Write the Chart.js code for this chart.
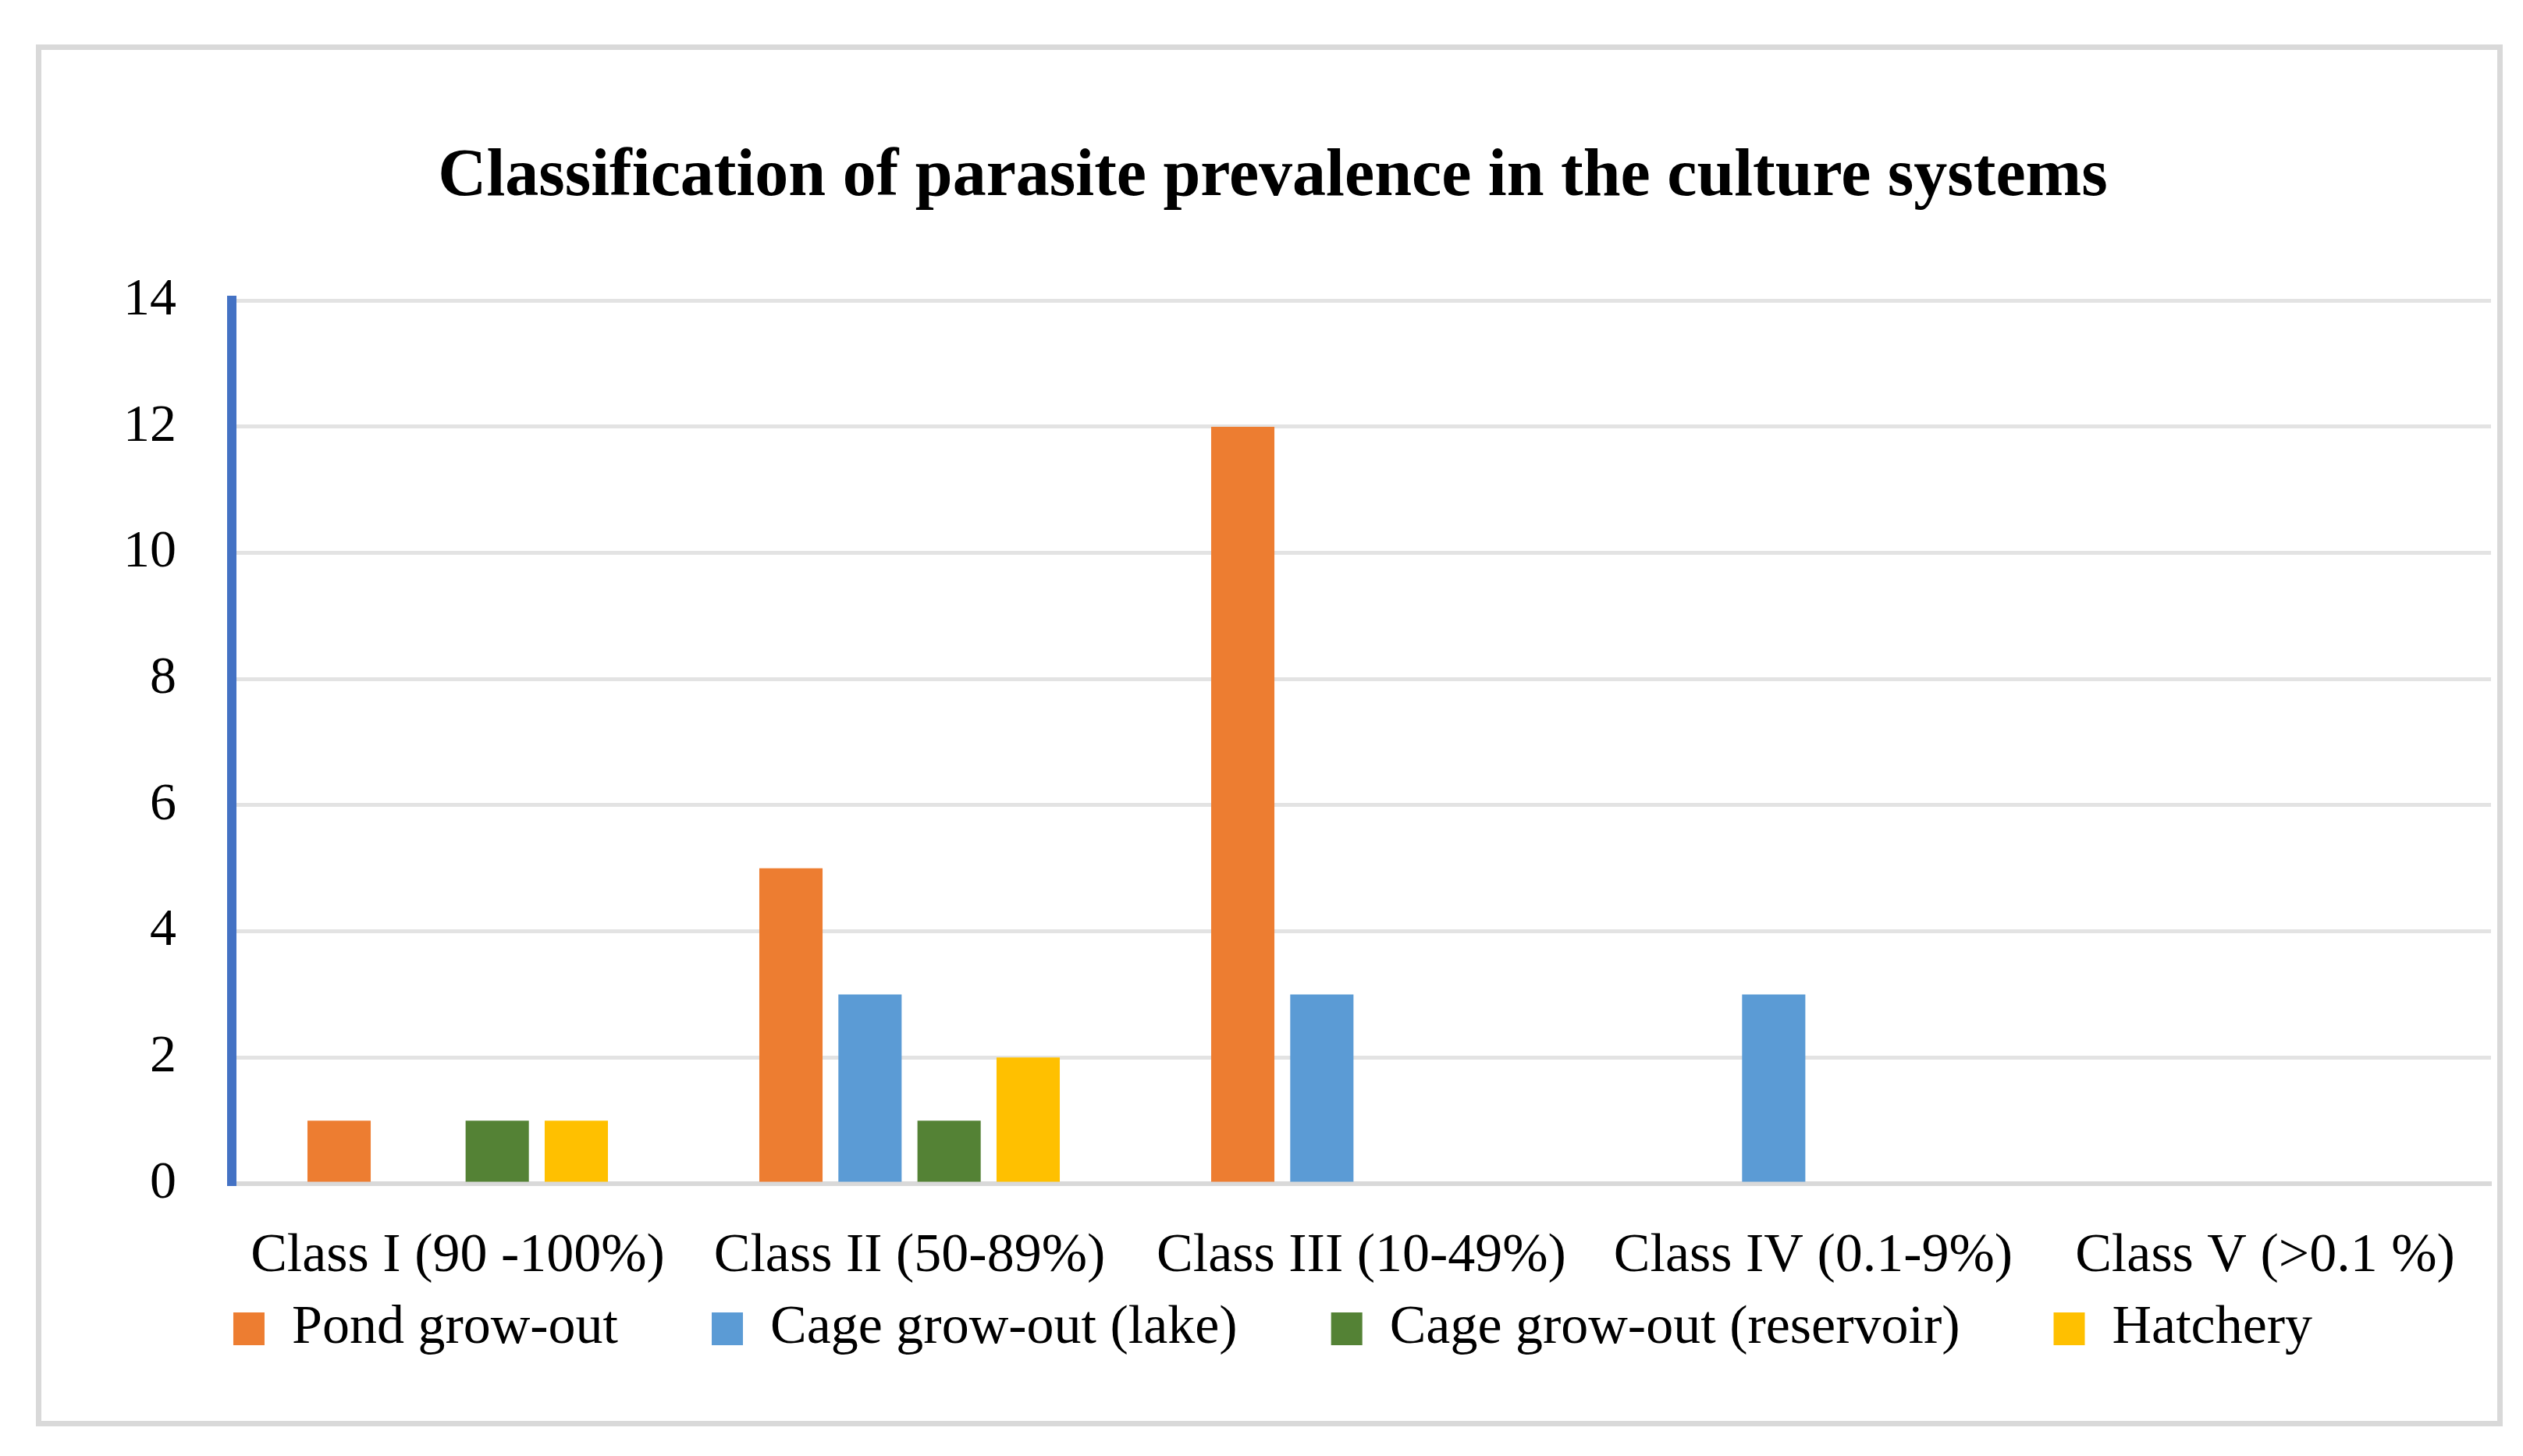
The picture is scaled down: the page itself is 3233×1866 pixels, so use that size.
<!DOCTYPE html>
<html>
<head>
<meta charset="utf-8">
<script src="https://cdn.jsdelivr.net/npm/chart.js@4"></script>
<style>
    html, body { margin: 0; padding: 0; background: #ffffff; }
    #wrap { position: relative; width: 3233px; height: 1866px; }
    #frame {
        position: absolute; left: 46px; top: 57px;
        width: 3147px; height: 1757px;
        border: 7px solid #d9d9d9;
    }
    #chart { position: absolute; left: 0; top: 0; }
</style>
</head>
<body>
<div id="wrap">
    <div id="frame"></div>
    <canvas id="chart" width="3233" height="1866"></canvas>
</div>
<script>
// Chart data
const categories = ['Class I (90 -100%)', 'Class II (50-89%)', 'Class III (10-49%)', 'Class IV (0.1-9%)', 'Class V (>0.1 %)'];
const seriesNames = ['Pond grow-out', 'Cage grow-out (lake)', 'Cage grow-out (reservoir)', 'Hatchery'];
const pondGrowOut = [1, 5, 12, 0, 0];
const cageLake = [0, 3, 3, 3, 0];
const cageReservoir = [1, 1, 0, 0, 0];
const hatchery = [1, 2, 0, 0, 0];
const yTicks = [0, 2, 4, 6, 8, 10, 12, 14];

const serif = "'Liberation Serif', 'Times New Roman', serif";
// extra room after each legend entry (Excel spaces them widely)
const legendGap = '\u00a0\u00a0\u00a0\u00a0\u00a0\u00a0';

const ctx = document.getElementById('chart').getContext('2d');
new Chart(ctx, {
    type: 'bar',
    data: {
        labels: categories,
        datasets: [
            { label: seriesNames[0], data: pondGrowOut, backgroundColor: '#ed7d31' },
            { label: seriesNames[1], data: cageLake, backgroundColor: '#5b9bd5' },
            { label: seriesNames[2], data: cageReservoir, backgroundColor: '#548235' },
            { label: seriesNames[3], data: hatchery, backgroundColor: '#ffc000' }
        ]
    },
    options: {
        responsive: false,
        devicePixelRatio: 1,
        animation: false,
        datasets: {
            bar: { categoryPercentage: 0.70, barPercentage: 0.8, borderWidth: 0 }
        },
        layout: {
            padding: { top: 0, left: 70, right: 41, bottom: 118 }
        },
        plugins: {
            title: {
                display: true,
                text: 'Classification of parasite prevalence in the culture systems',
                color: '#000000',
                font: { family: serif, size: 86, weight: 'bold' },
                padding: { top: 176, bottom: 106 }
            },
            legend: {
                display: true,
                position: 'bottom',
                labels: {
                    color: '#000000',
                    font: { family: serif, size: 70 },
                    boxWidth: 40,
                    boxHeight: 42,
                    padding: 15,
                    generateLabels: (chart) => {
                        const items = Chart.defaults.plugins.legend.labels.generateLabels(chart);
                        items.forEach((item, i) => {
                            if (i < items.length - 1) item.text = item.text + legendGap;
                        });
                        return items;
                    }
                }
            },
            tooltip: { enabled: false }
        },
        scales: {
            x: {
                grid: { display: false, drawTicks: false },
                border: { display: true, color: '#d9d9d9', width: 6 },
                ticks: {
                    color: '#000000',
                    font: { family: serif, size: 70 },
                    padding: 52,
                    maxRotation: 0,
                    autoSkip: false
                },
                afterFit: (axis) => { axis.height = 136; }
            },
            y: {
                min: 0,
                max: 14,
                afterBuildTicks: (axis) => { axis.ticks = yTicks.map(v => ({ value: v })); },
                grid: { color: '#e3e3e3', lineWidth: 5, drawTicks: false },
                border: { display: true, color: '#4472c4', width: 12 },
                ticks: {
                    color: '#000000',
                    font: { family: serif, size: 68 },
                    padding: 71
                },
                afterFit: (axis) => { axis.width = 227; }
            }
        }
    }
});
</script>
</body>
</html>
